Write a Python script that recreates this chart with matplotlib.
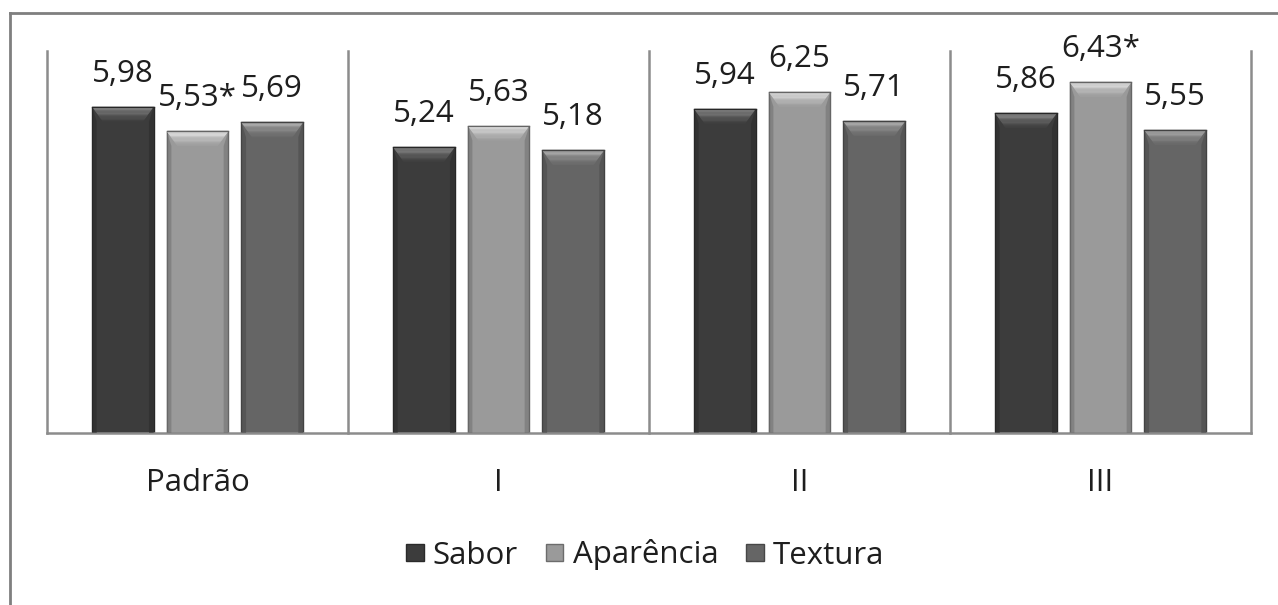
import numpy as np
import matplotlib
matplotlib.use('Agg')
import matplotlib.pyplot as plt
from matplotlib.patches import Polygon, Patch
from matplotlib.lines import Line2D
from matplotlib.colors import to_rgb

plt.rcParams['font.family'] = ['Open Sans', 'DejaVu Sans']

# scores per formulation
categories = ['Padrão', 'I', 'II', 'III']
series = ['Sabor', 'Aparência', 'Textura']
sabor = [5.98, 5.24, 5.94, 5.86]
aparencia = [5.53, 5.63, 6.25, 6.43]
textura = [5.69, 5.18, 5.71, 5.55]
labels = [['5,98', '5,24', '5,94', '5,86'],
          ['5,53*', '5,63', '6,25', '6,43*'],
          ['5,69', '5,18', '5,71', '5,55']]

colors = ['#3c3c3c', '#9a9a9a', '#656565']
tops = ['#a8a8a8', '#ffffff', '#c4c4c4']


def mix(c1, c2, t):
    a = np.array(to_rgb(c1))
    b = np.array(to_rgb(c2))
    return tuple(a + (b - a) * t)


def bevel(ax, bar, body, light):
    # light band on top of the bar, shaded downwards
    x0 = bar.get_x()
    w = bar.get_width()
    h = bar.get_height()
    bh = 0.27
    inset = 0.035
    n = 12
    for k in range(n):
        t0 = k / n
        t1 = (k + 1) / n
        y0 = h - bh * t0
        y1 = h - bh * t1
        pts = [(x0 + inset * t0, y0), (x0 + w - inset * t0, y0),
               (x0 + w - inset * t1, y1), (x0 + inset * t1, y1)]
        ax.add_patch(Polygon(pts, closed=True, facecolor=mix(light, body, t0 ** 0.6),
                             edgecolor='none', zorder=3))
    # darker sides below the bevel corners
    side = mix(body, '#000000', 0.3)
    ax.add_patch(Polygon([(x0, 0), (x0 + inset * 0.45, 0), (x0 + inset * 0.45, h - bh),
                          (x0, h)], closed=True, facecolor=side,
                         edgecolor='none', alpha=0.5, zorder=3))
    ax.add_patch(Polygon([(x0 + w, 0), (x0 + w - inset * 0.45, 0), (x0 + w - inset * 0.45, h - bh),
                          (x0 + w, h)], closed=True, facecolor=side,
                         edgecolor='none', alpha=0.5, zorder=3))
    ax.plot([x0, x0 + w], [h, h], color=mix(body, '#000000', 0.35), lw=1.0, zorder=4)


fig = plt.figure(figsize=(12.78, 6.05), dpi=100)
ax = fig.add_axes([0.0368, 0.2843, 0.9421, 0.6314])

x = np.arange(len(categories))
offsets = [-0.248, 0.0, 0.248]
width = 0.205

for i, vals in enumerate([sabor, aparencia, textura]):
    bars = ax.bar(x + offsets[i], vals, width, color=colors[i],
                  edgecolor=mix(colors[i], '#000000', 0.35), linewidth=1.0, zorder=2)
    for j, b in enumerate(bars):
        bevel(ax, b, colors[i], tops[i])
        ax.annotate(labels[i][j], (b.get_x() + b.get_width() / 2, vals[j]),
                    xytext=(0, 18), textcoords='offset points',
                    ha='center', va='baseline', fontsize=22.5, color='#1e1e1e')

# group separators
for s in np.arange(-0.5, len(categories), 1.0):
    ax.plot([s, s], [0, 7], color='#8c8c8c', lw=1.8, zorder=1, clip_on=False)

ax.set_xlim(-0.5, 3.5)
ax.set_ylim(0, 7)
ax.set_yticks([])
ax.set_xticks(x)
ax.set_xticklabels(categories, fontsize=22.5, color='#1e1e1e')
ax.tick_params(axis='x', length=0, pad=25)
for sp in ['top', 'left', 'right']:
    ax.spines[sp].set_visible(False)
ax.spines['bottom'].set_color('#8c8c8c')
ax.spines['bottom'].set_linewidth(1.8)

handles = [Patch(facecolor=colors[i], edgecolor=mix(colors[i], '#000000', 0.3)) for i in range(3)]
fig.legend(handles, series, loc='center', bbox_to_anchor=(0.505, 1 - 555 / 605), ncol=3,
           frameon=False, fontsize=22.5, handlelength=0.55, handleheight=0.5,
           handletextpad=0.3, columnspacing=0.9, labelcolor='#1e1e1e')

# outer frame
fig.add_artist(Line2D([10 / 1278, 1.0], [1 - 13 / 605] * 2, color='#7f7f7f', lw=2))
fig.add_artist(Line2D([10 / 1278] * 2, [0.0, 1 - 13 / 605], color='#7f7f7f', lw=2))

fig.savefig('out.png', dpi=100)
